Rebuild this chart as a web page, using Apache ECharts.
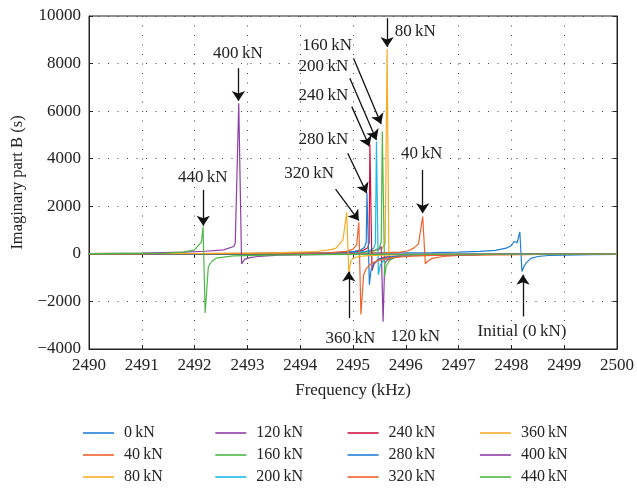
<!DOCTYPE html>
<html><head><meta charset="utf-8">
<script src="https://cdn.jsdelivr.net/npm/echarts/dist/echarts.min.js"></script>
<style>html,body{margin:0;padding:0;background:#fff}#c{width:637px;height:489px}</style>
</head><body><div id="c"></div>
<script>
// ---------- DATA ----------
const xTicks = [2490, 2491, 2492, 2493, 2494, 2495, 2496, 2497, 2498, 2499, 2500];
const yTicks = [-4000, -2000, 0, 2000, 4000, 6000, 8000, 10000];
const seriesNames = ['0\u2009kN','40\u2009kN','80\u2009kN','120\u2009kN','160\u2009kN','200\u2009kN','240\u2009kN','280\u2009kN','320\u2009kN','360\u2009kN','400\u2009kN','440\u2009kN'];

const s0kN = [[2490,12],[2492,15],[2494,22],[2495.5,35],[2496.5,55],[2497,72],[2497.4,105],[2497.7,150],[2497.9,240],[2498,340],[2498.05,520],[2498.11,470],[2498.16,920],[2498.2,-745],[2498.24,-520],[2498.28,-380],[2498.37,-190],[2498.5,-110],[2498.7,-70],[2499,-50],[2499.5,-32],[2500,-24]];
const s40kN = [[2490,6],[2492,9],[2494,18],[2495,30],[2495.5,45],[2495.9,70],[2496.05,130],[2496.15,240],[2496.24,420],[2496.32,1570],[2496.37,-420],[2496.42,-300],[2496.5,-190],[2496.7,-110],[2497,-70],[2497.5,-42],[2498.5,-25],[2500,-15]];
const s80kN = [[2490,5],[2493,12],[2494.5,30],[2495.2,70],[2495.45,130],[2495.55,220],[2495.61,450],[2495.646,8600],[2495.68,-320],[2495.72,-200],[2495.8,-120],[2496,-70],[2496.5,-35],[2497.5,-18],[2500,-8]];
const s120kN = [[2490,5],[2493,12],[2494.5,30],[2495.2,80],[2495.4,140],[2495.5,220],[2495.535,310],[2495.57,-2850],[2495.6,-400],[2495.65,-250],[2495.75,-150],[2496,-80],[2496.5,-40],[2497.5,-20],[2500,-8]];
const s160kN = [[2490,5],[2493,12],[2494.5,28],[2495.2,70],[2495.4,130],[2495.5,260],[2495.535,500],[2495.555,5140],[2495.6,-950],[2495.63,-500],[2495.7,-260],[2495.8,-150],[2496,-80],[2496.5,-40],[2497.5,-20],[2500,-8]];
const s200kN = [[2490,5],[2493,12],[2494.5,30],[2495.1,75],[2495.3,130],[2495.39,230],[2495.425,450],[2495.444,4720],[2495.48,-880],[2495.52,-450],[2495.6,-230],[2495.75,-130],[2496,-80],[2496.5,-40],[2497.5,-20],[2500,-8]];
const s240kN = [[2490,5],[2493,14],[2494.5,35],[2495,80],[2495.2,160],[2495.28,260],[2495.305,450],[2495.32,4600],[2495.36,-700],[2495.4,-420],[2495.48,-230],[2495.6,-140],[2495.9,-80],[2496.5,-40],[2497.5,-20],[2500,-8]];
const s280kN = [[2490,5],[2493,14],[2494.5,35],[2495,90],[2495.15,170],[2495.22,280],[2495.25,500],[2495.265,2550],[2495.31,-1300],[2495.34,-700],[2495.4,-380],[2495.5,-220],[2495.7,-120],[2496,-75],[2496.5,-40],[2497.5,-20],[2500,-8]];
const s320kN = [[2490,6],[2493,16],[2494.5,45],[2494.85,90],[2495,200],[2495.07,380],[2495.11,1330],[2495.15,-2550],[2495.2,-900],[2495.25,-620],[2495.35,-400],[2495.5,-260],[2495.7,-170],[2496,-110],[2496.5,-60],[2497.5,-30],[2500,-12]];
const s360kN = [[2490,8],[2492,15],[2493.5,40],[2494.3,100],[2494.6,190],[2494.68,240],[2494.81,590],[2494.88,1750],[2494.92,-745],[2494.96,-300],[2495,-190],[2495.1,-110],[2495.3,-75],[2495.7,-45],[2496.5,-25],[2500,-8]];
const s400kN = [[2490,15],[2491,30],[2491.8,70],[2492.2,110],[2492.55,170],[2492.74,310],[2492.77,450],[2492.836,6330],[2492.89,-420],[2492.95,-220],[2493.05,-160],[2493.2,-110],[2493.6,-50],[2494.5,-25],[2496,-15],[2500,-6]];
const s440kN = [[2490,10],[2490.8,20],[2491.47,30],[2491.78,70],[2492,170],[2492.13,500],[2492.16,1150],[2492.2,-2490],[2492.26,-530],[2492.33,-300],[2492.41,-180],[2492.73,-85],[2493.6,-42],[2495,-20],[2500,-6]];

const annoText = ['400\u2009kN','440\u2009kN','80\u2009kN','160\u2009kN','200\u2009kN','240\u2009kN','280\u2009kN','320\u2009kN','360\u2009kN','120\u2009kN','40\u2009kN','Initial (0\u2009kN)'];
const annoTextPos = [[2492.82,8420],[2492.155,3190],[2496.18,9340],[2494.51,8750],[2494.44,7870],[2494.44,6640],[2494.44,4790],[2494.17,3360],[2494.95,-3540],[2496.18,-3470],[2496.30,4230],[2498.20,-3260]];
const arrowFrom = [[2492.83,7810],[2492.164,2690],[2495.646,9910],[2495.01,8220],[2494.94,7380],[2494.977,6190],[2494.90,4230],[2494.67,2720],[2494.92,-2700],[2495.577,-4100],[2496.32,3530],[2498.22,-2630]];
const arrowTo = [[2492.83,6430],[2492.164,1180],[2495.646,8700],[2495.533,5460],[2495.444,4790],[2495.312,4510],[2495.261,2550],[2495.11,1400],[2494.92,-740],[2495.577,-2840],[2496.32,1710],[2498.22,-880]];

// ---------- STYLE ----------
const allData = [s0kN,s40kN,s80kN,s120kN,s160kN,s200kN,s240kN,s280kN,s320kN,s360kN,s400kN,s440kN];
const colors = ['#1f7fd6','#f2612b','#f9ac27','#8e3ea6','#4db848','#1cb8e8','#d0133e','#1f7fd6','#f2612b','#f9ac27','#8e3ea6','#4db848'];
const FONT = '"Liberation Serif", "DejaVu Serif", serif';
const TXT = '#222';

const chart = echarts.init(document.getElementById('c'), null, {renderer: 'canvas'});

const series = allData.map((d, i) => ({
  name: seriesNames[i], type: 'line', data: d, symbol: 'none', showSymbol: false,
  lineStyle: {width: 1.2, color: colors[i]}, itemStyle: {color: colors[i]},
  emphasis: {disabled: true}, animation: false, z: 2 + i
}));
series.push({
  name: '__anno', type: 'line', data: [], clip: false, silent: true, animation: false, z: 30,
  markLine: {
    silent: true, animation: false, symbol: ['none', 'arrow'], symbolSize: 10,
    lineStyle: {color: '#111', width: 1.3, type: 'solid'}, label: {show: false},
    emphasis: {disabled: true},
    data: arrowFrom.map((p, i) => [{coord: p}, {coord: arrowTo[i]}])
  }
});

const legends = [0,1,2,3].map(c => ({
  type: 'plain', padding: 0,
  data: seriesNames.slice(c*3, c*3+3), orient: 'vertical',
  left: 83 + c*132.3, top: 425, width: 130, height: 64,
  itemWidth: 31, itemHeight: 14, itemGap: 6,
  selectedMode: false, symbolKeepAspect: true,
  icon: 'path://M0,0 L31,0 L31,1.6 L0,1.6 Z',
  textStyle: {fontFamily: FONT, fontSize: 16, lineHeight: 14, color: TXT, padding: [0,0,0,5]}
}));

chart.setOption({
  animation: false,
  backgroundColor: '#fff',
  grid: {left: 89, right: 19, top: 16, bottom: 140, show: true, borderColor: '#262626', borderWidth: 1, backgroundColor: 'transparent'},
  legend: legends,
  xAxis: [{
    type: 'value', min: xTicks[0], max: xTicks[xTicks.length-1], interval: 1,
    name: 'Frequency (kHz)', nameLocation: 'middle', nameGap: 33,
    nameTextStyle: {fontFamily: FONT, fontSize: 17, color: TXT},
    axisLine: {show: true, onZero: false, lineStyle: {color: '#262626', width: 1}},
    axisTick: {show: true, inside: true, length: 4, lineStyle: {color: '#262626'}},
    axisLabel: {fontFamily: FONT, fontSize: 17, color: TXT, margin: 8, formatter: v => String(v)},
    splitLine: {show: true, lineStyle: {color: '#444', width: 1, type: [1, 8.5]}}
  }, {
    type: 'value', position: 'top', min: xTicks[0], max: xTicks[xTicks.length-1], interval: 1,
    axisLine: {show: true, lineStyle: {color: '#262626'}},
    axisTick: {show: true, inside: true, length: 4, lineStyle: {color: '#262626'}},
    axisLabel: {show: false}, splitLine: {show: false}
  }],
  yAxis: [{
    type: 'value', min: yTicks[0], max: yTicks[yTicks.length-1], interval: 2000,
    name: 'Imaginary part B (s)', nameLocation: 'middle', nameGap: 58, nameRotate: 90,
    nameTextStyle: {fontFamily: FONT, fontSize: 16.5, color: TXT},
    axisLine: {show: true, onZero: false, lineStyle: {color: '#262626', width: 1}},
    axisTick: {show: true, inside: true, length: 4, lineStyle: {color: '#262626'}},
    axisLabel: {fontFamily: FONT, fontSize: 17, color: TXT, margin: 8, formatter: v => (v < 0 ? '\u2212' + Math.abs(v) : String(v))},
    splitLine: {show: true, lineStyle: {color: '#444', width: 1, type: [1, 8.5]}}
  }, {
    type: 'value', position: 'right', min: yTicks[0], max: yTicks[yTicks.length-1], interval: 2000,
    axisLine: {show: true, lineStyle: {color: '#262626'}},
    axisTick: {show: true, inside: true, length: 4, lineStyle: {color: '#262626'}},
    axisLabel: {show: false}, splitLine: {show: false}
  }],
  series: series
});

// text annotations placed at data coordinates
const texts = annoText.map((t, i) => {
  const p = chart.convertToPixel({xAxisIndex: 0, yAxisIndex: 0}, annoTextPos[i]);
  return {type: 'text', x: p[0], y: p[1], z: 40, silent: true,
    style: {text: t, fill: TXT, font: '17px ' + FONT, align: 'center', verticalAlign: 'middle'}};
});
chart.setOption({graphic: texts});
</script></body></html>
